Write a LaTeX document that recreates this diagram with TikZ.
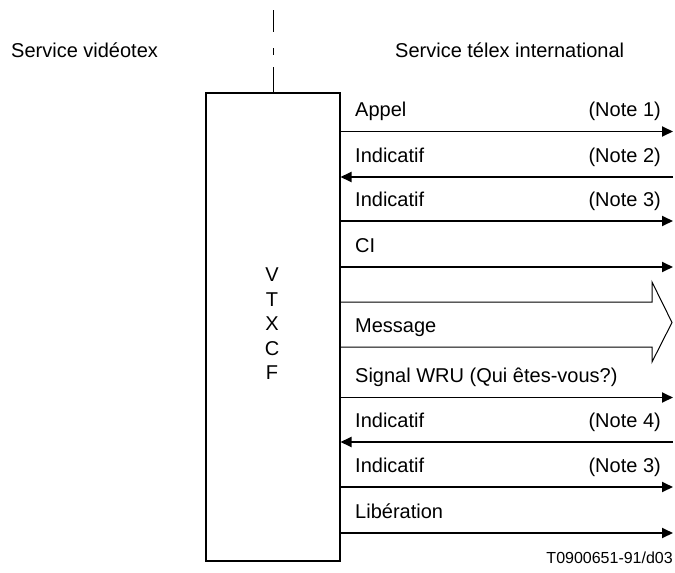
\documentclass[tikz,border=0pt]{standalone}
\usepackage{fontspec}
\setmainfont{Liberation Sans}
\usetikzlibrary{arrows.meta}
\tikzset{
  lbl/.style={anchor=base west, inner sep=0pt, font=\fontsize{20}{24}\selectfont},
  note/.style={anchor=base east, inner sep=0pt, font=\fontsize{20}{24}\selectfont},
  sig/.style={line width=1.8pt, -{Triangle[length=11pt,width=10pt]}},
  box/.style={draw, line width=2pt, minimum width=134pt, minimum height=468pt, inner sep=0pt},
}
\begin{document}
\begin{tikzpicture}[x=1pt,y=-1pt]
\useasboundingbox (0,0) rectangle (675,573);
% box
\node[box] (vtx) at (272.5,327) {};
\node[inner sep=0pt, align=center, font=\fontsize{20}{24.5}\selectfont] (lab) at (272,323.7) {V\\T\\X\\C\\F};
% dashed separator
\coordinate (d0) at (273,10);
\draw[line width=1pt] (d0) -- (273,32) (273,48) -- (273,55) (273,67) -- (vtx.north -| d0);
% headings
\node[lbl] (h1) at (11,57.5) {Service vidéotex};
\node[lbl] (h2) at (395,57.5) {Service télex international};
% right ends
\foreach \n/\y in {1/131.5,2/177,3/221,4/267,5/397.5,6/442,7/487,8/533}{
  \coordinate (r\n) at (673,\y);
  \coordinate (l\n) at (vtx.east |- r\n);
}
\draw[sig] (l1) -- (r1);
\draw[sig] (r2) -- (l2);
\draw[sig] (l3) -- (r3);
\draw[sig] (l4) -- (r4);
\draw[sig] (l5) -- (r5);
\draw[sig] (r6) -- (l6);
\draw[sig] (l7) -- (r7);
\draw[sig] (l8) -- (r8);
% labels
\node[lbl] (t1) at (355,116.5) {Appel};
\node[note] (n1) at (661,116.5) {(Note 1)};
\node[lbl] (t2) at (355,162) {Indicatif};
\node[note] (n2) at (661,162) {(Note 2)};
\node[lbl] (t3) at (355,206) {Indicatif};
\node[note] (n3) at (661,206) {(Note 3)};
\node[lbl] (t4) at (355,252) {CI};
\node[lbl] (t5) at (355,332) {Message};
\node[lbl] (t6) at (355,382) {Signal WRU (Qui êtes-vous?)};
\node[lbl] (t7) at (355,427) {Indicatif};
\node[note] (n7) at (661,427) {(Note 4)};
\node[lbl] (t8) at (355,472) {Indicatif};
\node[note] (n8) at (661,472) {(Note 3)};
\node[lbl] (t9) at (355,518) {Libération};
% big message arrow
\coordinate (m1) at (vtx.east |- 0,302);
\coordinate (m2) at (vtx.east |- 0,347);
\draw[line width=1pt, line join=miter] (m1) -- (652,302) -- (652,282) -- (672,322.5) -- (652,362) -- (652,347) -- (m2);
% reference
\node[note, font=\fontsize{16}{19}\selectfont] (ref) at (673,563) {T0900651-91/d03};
\end{tikzpicture}
\end{document}
